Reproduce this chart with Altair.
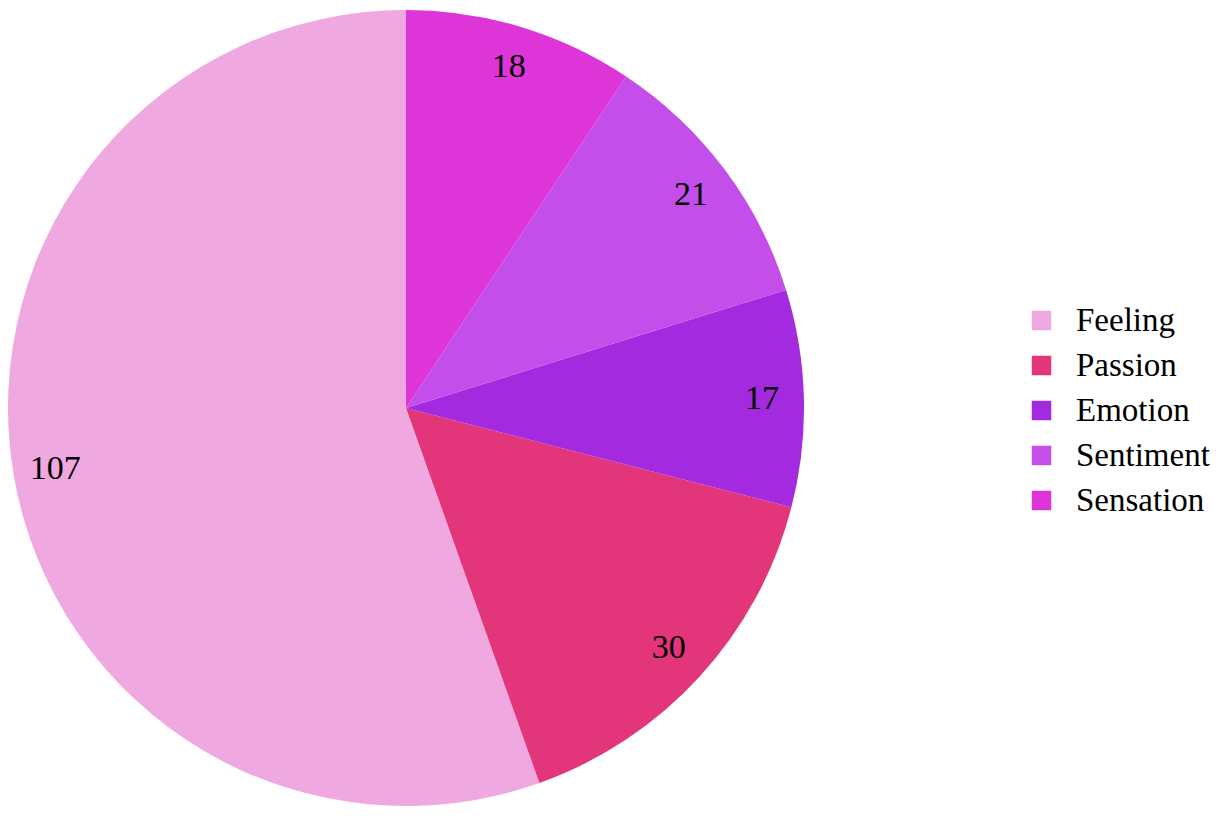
import altair as alt
import pandas as pd

categories = ["Feeling", "Passion", "Emotion", "Sentiment", "Sensation"]
values = [107, 30, 17, 21, 18]
colors = ["#F0A8E0", "#E3357A", "#A32ADF", "#C34EE9", "#DE35D9"]

df = pd.DataFrame({"cat": categories, "val": values, "idx": list(range(len(categories)))})

base = alt.Chart(df).encode(
    theta=alt.Theta("val:Q", stack=True),
    order=alt.Order("idx:Q", sort="descending"),
)

arcs = base.mark_arc(outerRadius=398, stroke=None).encode(
    color=alt.Color(
        "cat:N",
        scale=alt.Scale(domain=categories, range=colors),
        sort=categories,
        legend=alt.Legend(
            title=None,
            orient="none",
            legendX=1016,
            legendY=296,
            symbolType="square",
            symbolSize=380,
            symbolStrokeWidth=0,
            labelFont="Liberation Serif",
            labelFontSize=33,
            labelColor="#000000",
            rowPadding=11,
            labelOffset=18,
            labelLimit=300,
        ),
    )
)

labels = base.mark_text(radius=356, font="Liberation Serif", fontSize=34, color="#000000").encode(
    text=alt.Text("val:Q")
)

chart = (
    alt.layer(arcs, labels)
    .properties(width=794, height=800, padding=0)
    .configure_view(stroke=None)
)

chart.save("out.html", embed_options={"renderer": "svg", "actions": False})
